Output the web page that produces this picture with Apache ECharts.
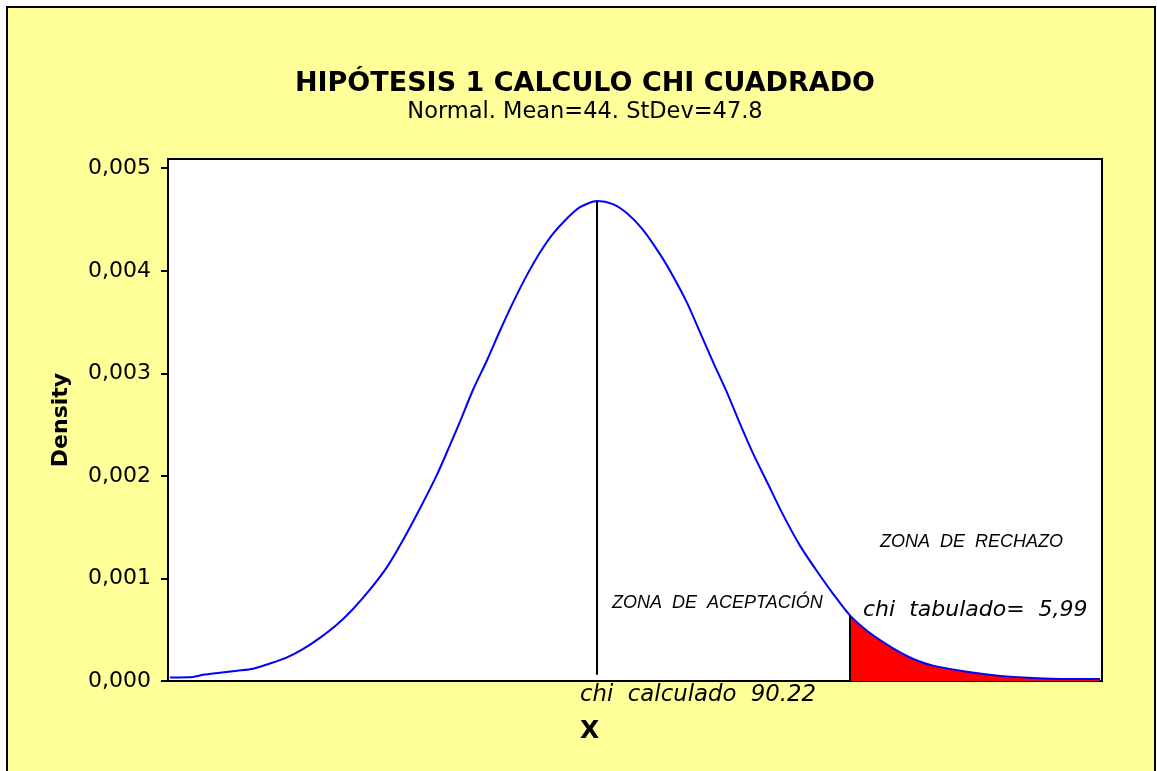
<!DOCTYPE html>
<html>
<head>
<meta charset="utf-8">
<script src="https://cdn.jsdelivr.net/npm/echarts@6/dist/echarts.min.js"></script>
<style>
body { margin: 0; background: #fff; }
#box { position: absolute; left: 6px; top: 6px; width: 1146px; height: 800px; border: 2px solid #000; background: #ffff99; }
#main { position: absolute; left: 0; top: 0; width: 1157px; height: 771px; }
</style>
</head>
<body>
<div id="box"></div>
<div id="main"></div>
<script>
// valores
var xVals = [-126.2, -117, -113, -106.3, -99.5, -93.1, -86.4, -79.6, -73.3, -66.5, -59.7, -53.4, -46.6, -39.8,
  -33.5, -26.7, -19.9, -14.7, -10.7, -5.5, 0.1, 5.3, 10.4, 16, 21.2, 26.3, 31.9, 37.1, 43.9, 50.2, 55.8, 62.2,
  69, 74.1, 79.7, 84.9, 90.1, 95.7, 100.8, 106, 111.6, 118, 124.7, 131.5, 137.9, 144.6, 151.4, 157.8, 164.6,
  171.3, 177.7, 191.2, 204.4, 217.5, 230.7, 244.2]
var density = [0.000035, 0.00004, 0.00006, 0.00008, 0.0001, 0.00012, 0.00017, 0.00023, 0.00031, 0.00042, 0.00055,
  0.0007, 0.00089, 0.00111, 0.00137, 0.00168, 0.00201, 0.0023, 0.00253, 0.00284, 0.00313, 0.00342, 0.00369,
  0.00396, 0.00418, 0.00436, 0.00451, 0.00462, 0.00468, 0.00465, 0.00456, 0.0044, 0.00416, 0.00395, 0.00369,
  0.0034, 0.00311, 0.00281, 0.00251, 0.00222, 0.00194, 0.00162, 0.00132, 0.00107, 0.00085, 0.00064, 0.00049,
  0.00038, 0.00028, 0.0002, 0.00015, 0.00009, 0.00005, 0.00003, 0.00002, 0.00002]
var yTicks = [0, 0.001, 0.002, 0.003, 0.004, 0.005]
var meanX = 43.9
var critX = 144.6

var curve = xVals.map(function (x, i) { return [x, density[i]] })
var rechazo = curve.filter(function (p) { return p[0] >= critX })
var peak = Math.max.apply(null, density)
var critY = rechazo[0][1]

var chart = echarts.init(document.getElementById('main'))
var option = {
  backgroundColor: 'transparent',
  animation: false,
  title: {
    text: 'HIPÓTESIS 1 CALCULO CHI CUADRADO',
    subtext: 'Normal. Mean=44. StDev=47.8',
    left: 580, top: 65, textAlign: 'center', itemGap: 4,
    textStyle: { fontFamily: 'DejaVu Sans', fontWeight: 'bold', fontSize: 27, color: '#000' },
    subtextStyle: { fontFamily: 'DejaVu Sans', fontSize: 22.5, color: '#000' }
  },
  grid: {
    left: 168, right: 55, top: 159, bottom: 90,
    show: true, backgroundColor: '#fff', borderColor: '#000', borderWidth: 2
  },
  xAxis: {
    type: 'value', min: -127, max: 245,
    axisLine: { show: true, onZero: false, lineStyle: { color: '#000', width: 2 } },
    axisTick: { show: false }, axisLabel: { show: false }, splitLine: { show: false }
  },
  yAxis: {
    type: 'value', min: 0, max: 0.00509,
    name: 'Density', nameLocation: 'middle', nameGap: 96, nameRotate: 90,
    nameTextStyle: { fontFamily: 'DejaVu Sans', fontWeight: 'bold', fontSize: 22, color: '#000' },
    axisLine: { show: true, onZero: false, lineStyle: { color: '#000', width: 2 } },
    axisTick: { show: true, customValues: yTicks, length: 7, lineStyle: { color: '#000', width: 2 } },
    axisLabel: {
      customValues: yTicks, margin: 17, color: '#000', fontSize: 22, fontFamily: 'DejaVu Sans',
      formatter: function (v) { return v.toFixed(3).replace('.', ',') }
    },
    splitLine: { show: false }
  },
  series: [
    {
      type: 'line', data: rechazo, symbol: 'none', z: 1, smooth: 0.25,
      lineStyle: { width: 0 }, areaStyle: { color: '#ff0000', opacity: 1 },
      markLine: {
        silent: true, symbol: 'none', label: { show: false },
        lineStyle: { color: '#000', width: 2, type: 'solid' },
        data: [[{ coord: [critX, 0] }, { coord: [critX, critY] }]]
      }
    },
    {
      type: 'line', data: curve, symbol: 'none', z: 3, smooth: 0.25,
      lineStyle: { color: '#0000ff', width: 2 },
      markLine: {
        silent: true, symbol: 'none', label: { show: false },
        lineStyle: { color: '#000', width: 2, type: 'solid' },
        data: [[{ coord: [meanX, 0.00006] }, { coord: [meanX, peak] }]]
      }
    }
  ],
  graphic: [
    { type: 'text', left: 612, top: 594, style: { text: 'ZONA  DE  ACEPTACIÓN', font: 'italic 18px "Liberation Sans"', fill: '#000' } },
    { type: 'text', left: 880, top: 533, style: { text: 'ZONA  DE  RECHAZO', font: 'italic 18px "Liberation Sans"', fill: '#000' } },
    { type: 'text', left: 863, top: 599, style: { text: 'chi  tabulado=  5,99', font: 'italic 22px "DejaVu Sans"', fill: '#000' } },
    { type: 'text', left: 580, top: 684, style: { text: 'chi  calculado  90.22', font: 'italic 22.8px "DejaVu Sans"', fill: '#000' } },
    { type: 'text', left: 580, top: 719, style: { text: 'X', font: 'bold 25px "DejaVu Sans"', fill: '#000' } }
  ]
}
chart.setOption(option)
</script>
</body>
</html>
